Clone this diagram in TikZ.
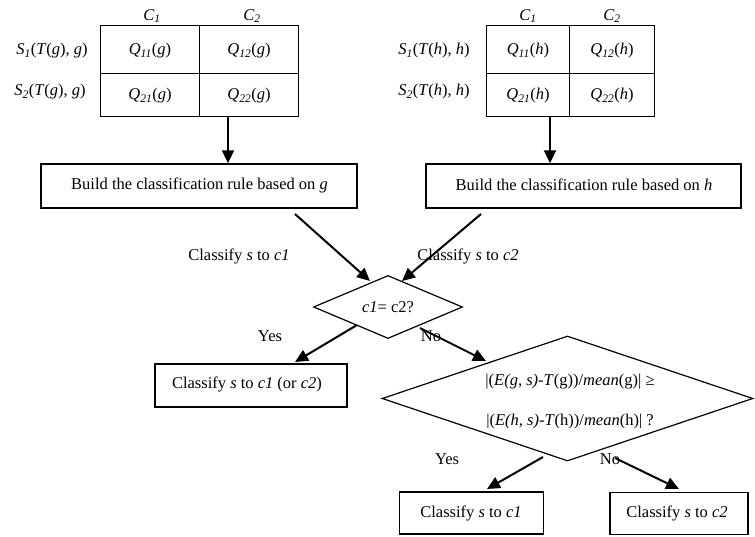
\documentclass[tikz,border=0pt]{standalone}
\usepackage{fontspec}
\setmainfont{Liberation Serif}
\usetikzlibrary{arrows.meta,shapes.geometric}
\newcommand{\iz}[1]{\textit{#1}}
\newcommand{\isub}[1]{\textsubscript{\textit{#1}}}
\begin{document}
\begin{tikzpicture}[x=1pt,y=-1pt,
  every node/.style={font=\fontsize{16.5}{19.8}\selectfont},
  cell/.style={draw, line width=0.9pt, inner sep=0pt},
  box/.style={draw, line width=1.4pt, inner sep=0pt},
  dia/.style={draw, shape=diamond, line width=1.2pt, inner sep=0pt},
  lbl/.style={inner sep=0pt},
  arr/.style={line width=2pt, -{Triangle[length=13pt,width=12pt]}}]
\useasboundingbox (0,0) rectangle (755,536);
% left table
\node[cell, minimum width=99.5pt, minimum height=48pt] (q11g) at (149.75,49) {};
\node[cell, minimum width=98.5pt, minimum height=48pt] (q12g) at (248.75,49) {};
\node[cell, minimum width=99.5pt, minimum height=43pt] (q21g) at (149.75,94.5) {};
\node[cell, minimum width=98.5pt, minimum height=43pt] (q22g) at (248.75,94.5) {};
\node[lbl] (tq11g) at (150,51) {\iz{Q}\isub{11}(\iz{g})};
\node[lbl] (tq12g) at (249,51) {\iz{Q}\isub{12}(\iz{g})};
\node[lbl] (tq21g) at (150,96) {\iz{Q}\isub{21}(\iz{g})};
\node[lbl] (tq22g) at (249,96) {\iz{Q}\isub{22}(\iz{g})};
\node[lbl] (c1g) at (152,16) {\iz{C}\isub{1}};
\node[lbl] (c2g) at (252,16) {\iz{C}\isub{2}};
\node[lbl] (s1g) at (52,51) {\iz{S}\isub{1}(\iz{T}(\iz{g}), \iz{g})};
\node[lbl] (s2g) at (50,92) {\iz{S}\isub{2}(\iz{T}(\iz{g}), \iz{g})};
% right table
\node[cell, minimum width=83pt, minimum height=48pt] (q11h) at (527.5,49) {};
\node[cell, minimum width=85pt, minimum height=48pt] (q12h) at (611.5,49) {};
\node[cell, minimum width=83pt, minimum height=43pt] (q21h) at (527.5,94.5) {};
\node[cell, minimum width=85pt, minimum height=43pt] (q22h) at (611.5,94.5) {};
\node[lbl] (tq11h) at (528,51) {\iz{Q}\isub{11}(\iz{h})};
\node[lbl] (tq12h) at (612,51) {\iz{Q}\isub{12}(\iz{h})};
\node[lbl] (tq21h) at (528,96) {\iz{Q}\isub{21}(\iz{h})};
\node[lbl] (tq22h) at (612,96) {\iz{Q}\isub{22}(\iz{h})};
\node[lbl] (c1h) at (528,16) {\iz{C}\isub{1}};
\node[lbl] (c2h) at (612,16) {\iz{C}\isub{2}};
\node[lbl] (s1h) at (434,51) {\iz{S}\isub{1}(\iz{T}(\iz{h}), \iz{h})};
\node[lbl] (s2h) at (434,92) {\iz{S}\isub{2}(\iz{T}(\iz{h}), \iz{h})};
% build boxes
\node[box, minimum width=316pt, minimum height=44pt] (lbox) at (199,186) {};
\node[lbl] (lboxt) at (199.5,185) {Build the classification rule based on \iz{g}};
\node[box, minimum width=315pt, minimum height=44pt] (rbox) at (583.5,186) {};
\node[lbl] (rboxt) at (584,185) {Build the classification rule based on \iz{h}};
\coordinate (ta) at (228,116);
\coordinate (tb) at (550,116);
\draw[arr] (ta) -- (ta |- lbox.north);
\draw[arr] (tb) -- (tb |- rbox.north);
% first decision
\node[dia, minimum width=149pt, minimum height=53pt] (d1) at (388,307) {\iz{c1}= c2?};
\coordinate (la0) at (295,214);
\coordinate (la1) at (370,281);
\coordinate (ra0) at (481,214);
\coordinate (ra1) at (402,281);
\draw[arr] (la0) -- (la1);
\draw[arr] (ra0) -- (ra1);
\node[lbl] (cl1) at (239,256) {Classify \iz{s} to \iz{c1}};
\node[lbl] (cl2) at (468,256) {Classify \iz{s} to \iz{c2}};
% yes branch
\node[box, minimum width=192pt, minimum height=43pt] (ybox) at (251,385.5) {};
\node[lbl] (yboxt) at (247,384) {Classify \iz{s} to \iz{c1} (or \iz{c2})};
\coordinate (ya0) at (357,325);
\coordinate (ya1) at (295,362);
\draw[arr] (ya0) -- (ya1);
\node[lbl] (yes1) at (270,336) {Yes};
% no branch
\node[dia, minimum width=371pt, minimum height=125pt] (d2) at (567.5,398.5) {};
\node[lbl] (d2a) at (570,382) {|(\iz{E(g, s)}-\iz{T}(g))/\iz{mean}(g)| ≥};
\begin{scope}
\clip (380,400) rectangle (755,427);
\node[lbl] (d2b) at (570,422) {|(\iz{E(h, s)}-\iz{T}(h))/\iz{mean}(h)| ?};
\end{scope}
\coordinate (na0) at (420,328);
\coordinate (na1) at (486,361);
\draw[arr] (na0) -- (na1);
\node[lbl] (no1) at (431,336) {No};
% final boxes
\node[box, minimum width=144pt, minimum height=42pt] (fbox1) at (471.5,513) {};
\node[lbl] (fbox1t) at (471,513) {Classify \iz{s} to \iz{c1}};
\node[box, minimum width=138pt, minimum height=42pt] (fbox2) at (679,513.5) {};
\node[lbl] (fbox2t) at (677,513) {Classify \iz{s} to \iz{c2}};
\coordinate (yb0) at (543,457);
\coordinate (yb1) at (487,489);
\coordinate (nb0) at (615,458);
\coordinate (nb1) at (679,489);
\draw[arr] (yb0) -- (yb1);
\draw[arr] (nb0) -- (nb1);
\node[lbl] (yes2) at (447,459) {Yes};
\node[lbl] (no2) at (610,459) {No};
\end{tikzpicture}
\end{document}
